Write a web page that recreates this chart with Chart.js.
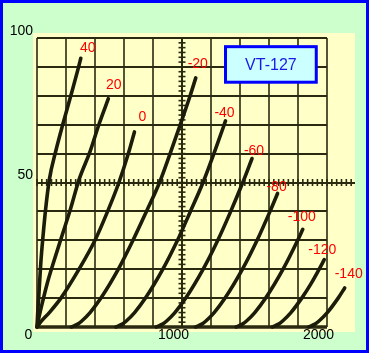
<!DOCTYPE html>
<html>
<head>
<meta charset="utf-8">
<script src="https://cdn.jsdelivr.net/npm/chart.js@4.4.1/dist/chart.umd.min.js"></script>
<style>
html,body{margin:0;padding:0;background:#ccffcc;}
canvas{display:block;}
</style>
</head>
<body>
<canvas id="c" width="369" height="353"></canvas>
<script>
// ---- data (plate voltage vs plate current) ----
const chartTitle = 'VT-127';
const gridLabels = ['40', '20', '0', '-20', '-40', '-60', '-80', '-100', '-120', '-140'];
const xTickValues = [0, 1000, 2000];
const yTickValues = [50, 100];

const plateV_40 = [0, 5, 12, 26, 42, 60, 85, 130, 180, 233, 287, 302];
const current_40 = [0, 5, 10.4, 22, 31.7, 41, 51, 61, 70.5, 80, 90, 93];

const plateV_20 = [0, 12, 35, 70, 118, 175, 232, 290, 365, 430, 492];
const current_20 = [0, 3, 8, 15, 23, 32, 41, 51, 60.6, 70.5, 79];

const plateV_0 = [0, 30, 85, 165, 290, 400, 487, 565, 630, 672];
const current_0 = [0, 2, 5, 10, 20, 30, 40, 50, 60, 67.5];

const plateV_m20 = [237, 281, 307, 366, 441, 561, 662, 755, 845, 918, 988, 1056, 1095];
const current_m20 = [0, 1, 2, 5, 10, 20, 30, 40, 50, 60, 70, 80, 86.2];

const plateV_m40 = [544, 588, 614, 673, 748, 868, 969, 1058, 1145, 1220, 1291, 1300];
const current_m40 = [0, 1, 2, 5, 10, 20, 30, 40, 50, 60, 70, 71.3];

const plateV_m60 = [822, 866, 892, 951, 1026, 1146, 1247, 1336, 1419, 1483];
const current_m60 = [0, 1, 2, 5, 10, 20, 30, 40, 50, 58.3];

const plateV_m80 = [1093, 1137, 1163, 1222, 1297, 1417, 1518, 1607, 1659];
const current_m80 = [0, 1, 2, 5, 10, 20, 30, 40, 46.2];

const plateV_m100 = [1373, 1417, 1443, 1502, 1577, 1697, 1798, 1833];
const current_m100 = [0, 1, 2, 5, 10, 20, 30, 33.8];

const plateV_m120 = [1622, 1666, 1692, 1751, 1826, 1890, 1946, 1981];
const current_m120 = [0, 1, 2, 5, 10, 15, 20, 23.3];

const plateV_m140 = [1873, 1917, 1943, 2002, 2077, 2122];
const current_m140 = [0, 1, 2, 5, 10, 13.5];

const curvesX = [plateV_40, plateV_20, plateV_0, plateV_m20, plateV_m40, plateV_m60, plateV_m80, plateV_m100, plateV_m120, plateV_m140];
const curvesY = [current_40, current_20, current_0, current_m20, current_m40, current_m60, current_m80, current_m100, current_m120, current_m140];

// ---- styling ----
const FONT = '"Liberation Sans", Arial, sans-serif';
const GRID = '#2a2a10';
const CURVE = '#1c1c0a';

const paper = {
  id: 'paper',
  beforeDraw(chart) {
    const {ctx, chartArea: a} = chart;
    ctx.save();
    ctx.fillStyle = '#ccffcc';
    ctx.fillRect(0, 0, chart.width, chart.height);
    ctx.fillStyle = '#ffffc8';
    ctx.fillRect(a.left - 4, a.top - 5, (a.right - 1) - (a.left - 4), (a.bottom + 5) - (a.top - 5));
    ctx.restore();
  },
  beforeDatasetsDraw(chart) {
    const {ctx, chartArea: a, scales: {x, y}} = chart;
    ctx.save();
    ctx.strokeStyle = GRID;
    ctx.lineCap = 'butt';
    for (let v = 0; v <= 2000; v += 200) {
      const px = Math.round(x.getPixelForValue(v));
      ctx.lineWidth = v === 1000 ? 2 : 1.6;
      ctx.beginPath();
      ctx.moveTo(px, y.getPixelForValue(100));
      ctx.lineTo(px, y.getPixelForValue(0));
      ctx.stroke();
    }
    for (let v = 0; v <= 100; v += 10) {
      const py = Math.round(y.getPixelForValue(v));
      ctx.lineWidth = v === 0 ? 3.5 : 2;
      ctx.beginPath();
      ctx.moveTo(x.getPixelForValue(0), py);
      ctx.lineTo(v === 50 ? a.right - 1 : x.getPixelForValue(2000), py);
      ctx.stroke();
    }
    ctx.lineWidth = 1.6;
    const y50 = y.getPixelForValue(50);
    for (let v = 0; v <= 2190; v += 200 / 6) {
      const px = x.getPixelForValue(v);
      ctx.beginPath();
      ctx.moveTo(px, y50 - 3.5);
      ctx.lineTo(px, y50 + 3.5);
      ctx.stroke();
    }
    const x1000 = x.getPixelForValue(1000);
    for (let v = 0; v <= 100.01; v += 10 / 6) {
      const py = y.getPixelForValue(v);
      ctx.beginPath();
      ctx.moveTo(x1000 - 3.5, py);
      ctx.lineTo(x1000 + 3.5, py);
      ctx.stroke();
    }
    ctx.restore();
  },
  afterDatasetsDraw(chart, args, opts) {
    const {ctx, scales: {x, y}} = chart;
    ctx.save();
    ctx.fillStyle = '#ff0000';
    ctx.font = '14px ' + FONT;
    ctx.textAlign = 'center';
    ctx.textBaseline = 'middle';
    chart.data.datasets.forEach((ds, i) => {
      const meta = chart.getDatasetMeta(i);
      const pt = meta.data[meta.data.length - 1];
      const off = opts.labelOffsets[i];
      ctx.fillText(ds.label, pt.x + off[0], pt.y + off[1]);
    });
    const bx1 = x.getPixelForValue(1300), bx2 = x.getPixelForValue(1926);
    const by1 = y.getPixelForValue(97), by2 = y.getPixelForValue(84.7);
    ctx.fillStyle = '#ccffff';
    ctx.fillRect(bx1, by1, bx2 - bx1, by2 - by1);
    ctx.strokeStyle = '#0000ff';
    ctx.lineWidth = 3;
    ctx.strokeRect(bx1, by1, bx2 - bx1, by2 - by1);
    ctx.fillStyle = '#1a1ae6';
    ctx.font = '16px ' + FONT;
    ctx.fillText(chartTitle, (bx1 + bx2) / 2, (by1 + by2) / 2 + 1);
    ctx.restore();
  },
  afterDraw(chart) {
    const {ctx} = chart;
    ctx.save();
    ctx.strokeStyle = '#0000ff';
    ctx.lineWidth = 3;
    ctx.strokeRect(1.5, 1.5, chart.width - 3, chart.height - 3);
    ctx.restore();
  }
};

const datasets = curvesX.map((xs, i) => ({
  label: gridLabels[i],
  data: xs.map((v, j) => ({x: v, y: curvesY[i][j]})),
  showLine: true,
  borderColor: CURVE,
  borderWidth: 3.6,
  pointRadius: 0,
  cubicInterpolationMode: 'monotone',
  borderCapStyle: 'round',
  borderJoinStyle: 'round',
  clip: false
}));

new Chart(document.getElementById('c'), {
  type: 'scatter',
  data: {datasets},
  plugins: [paper],
  options: {
    responsive: false,
    animation: false,
    devicePixelRatio: 1,
    layout: {padding: {top: 38, right: 13, bottom: 0, left: 0}},
    plugins: {
      legend: {display: false},
      tooltip: {enabled: false},
      paper: {
        labelOffsets: [[7, -10], [5.5, -13.5], [8, -14.5], [2, -13.5], [-1, -8], [2, -7], [-1, -6], [-1, -12], [-2, -10], [4, -14]]
      }
    },
    scales: {
      x: {
        type: 'linear', min: 0, max: 2200,
        afterBuildTicks: s => { s.ticks = xTickValues.map(v => ({value: v})); },
        afterFit: s => { s.height = 26; },
        grid: {display: false, drawTicks: false},
        border: {display: false},
        ticks: {autoSkip: false, maxRotation: 0, padding: 0, labelOffset: -8.5, color: '#000',
                font: {size: 14, family: FONT}, callback: v => String(v)}
      },
      y: {
        type: 'linear', min: 0, max: 100,
        afterBuildTicks: s => { s.ticks = yTickValues.map(v => ({value: v})); },
        afterFit: s => { s.width = 37; },
        grid: {display: false, drawTicks: false},
        border: {display: false},
        ticks: {autoSkip: false, padding: 4, labelOffset: -7, color: '#000',
                font: {size: 14, family: FONT}, callback: v => String(v)}
      }
    }
  }
});
</script>
</body>
</html>
